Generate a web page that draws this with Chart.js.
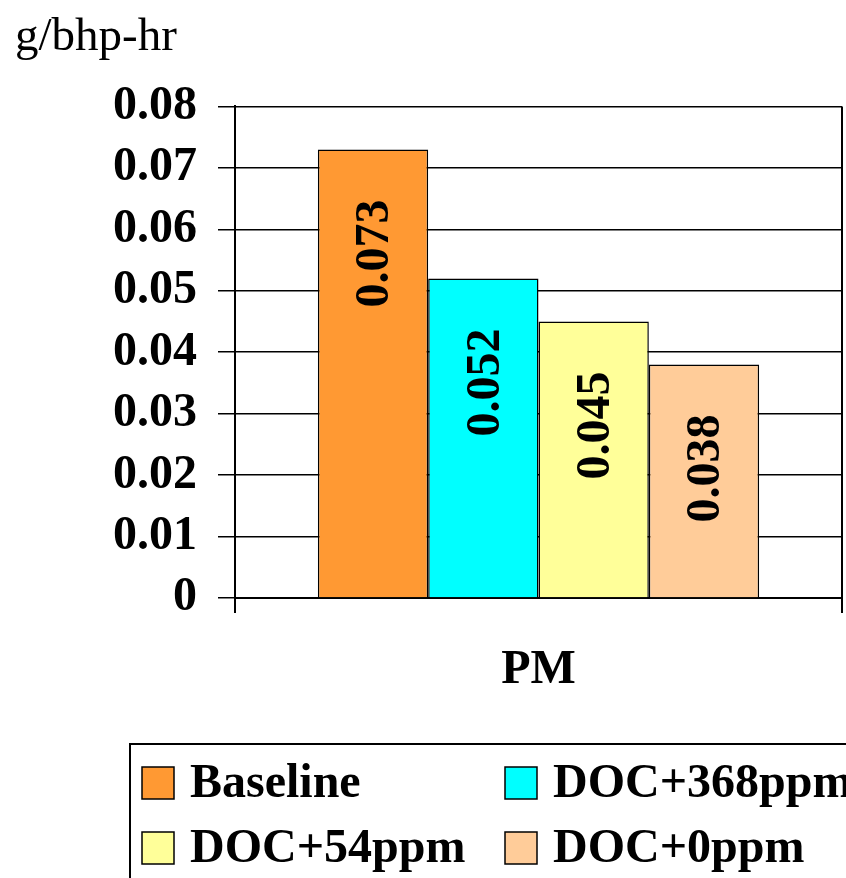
<!DOCTYPE html>
<html>
<head>
<meta charset="utf-8">
<script src="https://cdn.jsdelivr.net/npm/chart.js@4.4.1/dist/chart.umd.min.js"></script>
<style>
  html, body { margin: 0; padding: 0; background: #fff; }
  #wrap { width: 846px; height: 878px; overflow: hidden; }
</style>
</head>
<body>
<div id="wrap"><canvas id="c" width="846" height="878"></canvas></div>
<script>
// ---- data ----
const categories = ['PM'];
const seriesLabels = ['Baseline', 'DOC+368ppm', 'DOC+54ppm', 'DOC+0ppm'];
const baselineValues = [0.073];
const doc368Values = [0.052];
const doc54Values = [0.045];
const doc0Values = [0.038];
const seriesColors = ['#FF9933', '#00FFFF', '#FFFF99', '#FFCC99'];
const yMin = 0, yMax = 0.08, yStep = 0.01;
const yTitle = 'g/bhp-hr';

const SERIF = '"Liberation Serif", "Times New Roman", serif';
const seriesValues = [baselineValues, doc368Values, doc54Values, doc0Values];

const valueLabels = {
  id: 'valueLabels',
  afterDatasetsDraw(chart) {
    const ctx = chart.ctx;
    ctx.save();
    ctx.font = 'bold 48px ' + SERIF;
    ctx.fillStyle = '#000';
    chart.data.datasets.forEach((ds, i) => {
      const meta = chart.getDatasetMeta(i);
      meta.data.forEach((bar, j) => {
        const v = ds.data[j];
        ctx.save();
        ctx.translate(bar.x + 3, bar.y + 50);
        ctx.rotate(-Math.PI / 2);
        ctx.textAlign = 'right';
        ctx.textBaseline = 'middle';
        ctx.fillText(String(v), 0, 0);
        ctx.restore();
      });
    });
    ctx.restore();
  }
};

const boxLegend = {
  id: 'boxLegend',
  afterDraw(chart) {
    const ctx = chart.ctx;
    ctx.save();
    const top = chart.scales.x.bottom;
    ctx.lineWidth = 2;
    ctx.strokeStyle = '#000';
    ctx.strokeRect(130, top, 800, 200);
    ctx.font = 'bold 48px ' + SERIF;
    ctx.textBaseline = 'middle';
    ctx.textAlign = 'left';
    const cols = [142, 505];
    const rows = [top + 39, top + 104];
    chart.data.datasets.forEach((ds, i) => {
      const cx = cols[i % 2], cy = rows[Math.floor(i / 2)];
      ctx.fillStyle = ds.backgroundColor;
      ctx.fillRect(cx, cy - 16, 32, 32);
      ctx.lineWidth = 1.5;
      ctx.strokeStyle = '#000';
      ctx.strokeRect(cx, cy - 16, 32, 32);
      ctx.fillStyle = '#000';
      ctx.fillText(ds.label, cx + 48, cy + 2);
    });
    ctx.restore();
  }
};

new Chart(document.getElementById('c'), {
  type: 'bar',
  data: {
    labels: categories,
    datasets: seriesLabels.map((label, i) => ({
      label: label,
      data: seriesValues[i],
      backgroundColor: seriesColors[i],
      borderColor: '#000',
      borderWidth: 1.5,
      categoryPercentage: 0.727,
      barPercentage: 1.0
    }))
  },
  options: {
    responsive: false,
    devicePixelRatio: 1,
    animation: false,
    layout: { padding: { left: 15, right: 4, top: 0, bottom: 134 } },
    plugins: {
      legend: { display: false },
      tooltip: { enabled: false },
      title: {
        display: true,
        text: yTitle,
        align: 'start',
        color: '#000',
        font: { family: SERIF, size: 47, weight: 'normal', lineHeight: 1.2 },
        padding: { top: 9, bottom: 41 }
      }
    },
    scales: {
      x: {
        type: 'category',
        offset: true,
        grid: { display: true, offset: true, color: '#000', lineWidth: 2, tickLength: 15, drawOnChartArea: true },
        border: { display: true, color: '#000', width: 2 },
        ticks: { color: '#000', font: { family: SERIF, size: 48, weight: 'bold' }, padding: 29 },
        afterFit(scale) { scale.height = 146; }
      },
      y: {
        min: yMin,
        max: yMax,
        grid: { color: '#000', lineWidth: 1.5, tickLength: 17 },
        border: { display: true, color: '#000', width: 2 },
        ticks: {
          stepSize: yStep,
          color: '#000',
          padding: 21,
          font: { family: SERIF, size: 48, weight: 'bold' },
          callback: v => (Math.abs(v) < 1e-9 ? '0' : v.toFixed(2))
        },
        afterFit(scale) { scale.width = 220; }
      }
    }
  },
  plugins: [valueLabels, boxLegend]
});
</script>
</body>
</html>
